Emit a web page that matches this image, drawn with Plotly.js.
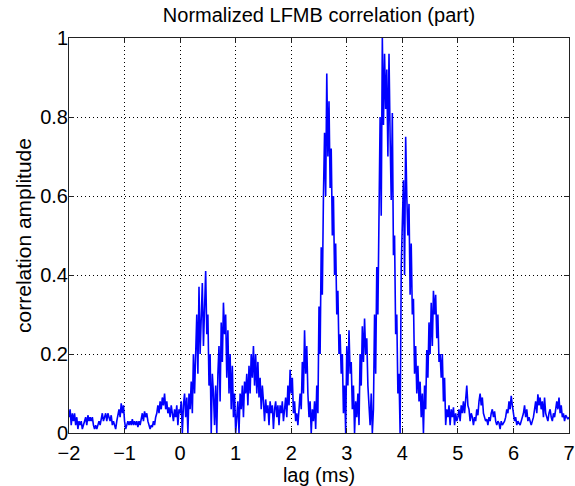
<!DOCTYPE html>
<html>
<head>
<meta charset="utf-8">
<script src="https://cdn.plot.ly/plotly-3.0.1.min.js"></script>
<style>html,body{margin:0;padding:0;background:#fff;}#chart{width:575px;height:486px;}</style>
</head>
<body>
<div id="chart"></div>
<script>
// Sampling grid of the lag axis (ms)
const lagStart = -2;
const lagStep = 0.02;

// Correlation amplitude, one value per lag sample (-2 .. 7 ms)
const amplitude = [
  0.04, 0.06, 0.02, 0.05, 0.03,
  0.05, 0.02, 0.04, 0.01, 0.03,
  0.02, 0.03, 0.01, 0.02, 0.03,
  0.04, 0.02, 0.045, 0.03, 0.04,
  0.03, 0.04, 0.02, 0.01, 0.02,
  0.01, 0.02, 0.03, 0.02, 0.04,
  0.05, 0.03, 0.045, 0.05, 0.03,
  0.05, 0.04, 0.03, 0.045, 0.02,
  0.03, 0.02, 0.01, 0.03, 0.05,
  0.06, 0.04, 0.075, 0.05, 0.07,
  0.03, 0.01, 0.02, 0.03, 0.02,
  0.03, 0.02, 0.035, 0.02, 0.03,
  0.02, 0.03, 0.015, 0.03, 0.02,
  0.04, 0.05, 0.03, 0.055, 0.04,
  0.05, 0.03, 0.02, 0.01, 0.02,
  0.015, 0.03, 0.02, 0.04, 0.05,
  0.07, 0.05, 0.08, 0.06, 0.09,
  0.07, 0.10, 0.06, 0.08, 0.05,
  0.065, 0.04, 0.07, 0.05, 0.03,
  0.06, 0.04, 0.07, 0.02, 0.06,
  0.05, 0.08, 0.00, 0.07, 0.10,
  0.04, 0.09, 0.00, 0.10, 0.06,
  0.13, 0.05, 0.20, 0.10, 0.25,
  0.30, 0.15, 0.37, 0.20, 0.28,
  0.38, 0.22, 0.34, 0.41, 0.25,
  0.30, 0.12, 0.20, 0.00, 0.15,
  0.10, 0.02, 0.12, 0.00, 0.15,
  0.22, 0.08, 0.28, 0.18, 0.33,
  0.25, 0.30, 0.14, 0.26, 0.10,
  0.20, 0.06, 0.17, 0.04, 0.10,
  0.00, 0.03, 0.08, 0.00, 0.10,
  0.06, 0.12, 0.04, 0.13, 0.10,
  0.15, 0.07, 0.17, 0.10, 0.20,
  0.14, 0.22, 0.12, 0.20, 0.10,
  0.18, 0.09, 0.14, 0.06, 0.12,
  0.08, 0.03, 0.085, 0.05, 0.07,
  0.02, 0.08, 0.05, 0.07, 0.01,
  0.06, 0.08, 0.04, 0.07, 0.02,
  0.07, 0.05, 0.08, 0.03, 0.06,
  0.09, 0.04, 0.12, 0.07, 0.16,
  0.10, 0.14, 0.05, 0.08, 0.03,
  0.05, 0.02, 0.08, 0.10, 0.06,
  0.18, 0.10, 0.26, 0.15, 0.22,
  0.10, 0.04, 0.08, 0.00, 0.06,
  0.03, 0.08, 0.01, 0.12, 0.05,
  0.32, 0.20, 0.47, 0.35, 0.60,
  0.76, 0.60, 0.91, 0.70, 0.84,
  0.62, 0.72, 0.50, 0.60, 0.40,
  0.48, 0.30, 0.36, 0.20, 0.25,
  0.15, 0.20, 0.05, 0.12, 0.00,
  0.22, 0.12, 0.26, 0.15, 0.18,
  0.06, 0.12, 0.00, 0.08, 0.04,
  0.10, 0.02, 0.20, 0.12, 0.27,
  0.18, 0.29, 0.20, 0.24, 0.12,
  0.08, 0.02, 0.10, 0.00, 0.06,
  0.30, 0.15, 0.42, 0.30, 0.61,
  0.80, 0.55, 1.00, 0.78, 0.96,
  0.82, 0.92, 0.70, 0.96, 0.75,
  0.59, 0.81, 0.45, 0.50, 0.25,
  0.30, 0.10, 0.15, 0.00, 0.42,
  0.55, 0.64, 0.40, 0.75, 0.60,
  0.50, 0.58, 0.35, 0.48, 0.30,
  0.34, 0.15, 0.22, 0.10, 0.17,
  0.08, 0.13, 0.04, 0.10, 0.00,
  0.12, 0.06, 0.21, 0.14, 0.28,
  0.20, 0.33, 0.22, 0.36, 0.30,
  0.35, 0.24, 0.30, 0.18, 0.20,
  0.14, 0.20, 0.08, 0.14, 0.02,
  0.06, 0.04, 0.07, 0.02, 0.06,
  0.04, 0.065, 0.02, 0.05, 0.03,
  0.04, 0.06, 0.03, 0.07, 0.05,
  0.08, 0.05, 0.10, 0.12, 0.07,
  0.06, 0.03, 0.05, 0.04, 0.02,
  0.04, 0.03, 0.06, 0.045, 0.08,
  0.10, 0.07, 0.09, 0.05, 0.04,
  0.03, 0.035, 0.02, 0.04, 0.03,
  0.05, 0.06, 0.04, 0.055, 0.03,
  0.02, 0.03, 0.025, 0.01, 0.03,
  0.02, 0.025, 0.03, 0.04, 0.06,
  0.05, 0.08, 0.06, 0.094, 0.07,
  0.05, 0.03, 0.04, 0.02, 0.03,
  0.025, 0.02, 0.03, 0.04, 0.05,
  0.07, 0.04, 0.06, 0.03, 0.04,
  0.03, 0.02, 0.03, 0.04, 0.06,
  0.08, 0.05, 0.098, 0.07, 0.09,
  0.06, 0.08, 0.04, 0.09, 0.05,
  0.04, 0.03, 0.05, 0.06, 0.04,
  0.03, 0.05, 0.04, 0.06, 0.08,
  0.06, 0.09, 0.05, 0.07, 0.04,
  0.05, 0.03, 0.045, 0.04, 0.035,
  0.04
];

const xTickVals = [-2, -1, 0, 1, 2, 3, 4, 5, 6, 7];
const yTickVals = [0, 0.2, 0.4, 0.6, 0.8, 1];
const yTickText = ['0', '0.2', '0.4', '0.6', '0.8', '1'];

const lag = amplitude.map((_, i) => +(lagStart + i * lagStep).toFixed(4));

const font = 'Liberation Sans, Arial, Helvetica, sans-serif';

const trace = {
  type: 'scatter',
  mode: 'lines',
  x: lag,
  y: amplitude,
  line: { color: '#0000ff', width: 1.6 },
  hoverinfo: 'skip'
};

const axisCommon = {
  showline: true,
  mirror: 'ticks',
  linecolor: '#222',
  linewidth: 1,
  ticks: 'inside',
  ticklen: 5,
  tickcolor: '#222',
  showgrid: true,
  gridcolor: '#000',
  gridwidth: 1,
  griddash: '1px,3px',
  zeroline: false,
  tickfont: { family: font, size: 20, color: '#000' }
};

const layout = {
  width: 575,
  height: 486,
  margin: { l: 69, r: 6, t: 38, b: 53 },
  paper_bgcolor: '#fff',
  plot_bgcolor: '#fff',
  showlegend: false,
  title: {
    text: 'Normalized LFMB correlation (part)',
    font: { family: font, size: 20, color: '#000' },
    x: 0.5, xref: 'paper',
    y: 1 - 15 / 486, yref: 'container', yanchor: 'middle'
  },
  xaxis: Object.assign({}, axisCommon, {
    range: [-2, 7],
    tickvals: xTickVals,
    ticktext: xTickVals.map(v => v < 0 ? '\u2212' + Math.abs(v) : String(v)),
    ticklabelstandoff: 2,
    title: { text: 'lag (ms)', font: { family: font, size: 20, color: '#000' }, standoff: 0 }
  }),
  yaxis: Object.assign({}, axisCommon, {
    range: [0, 1],
    tickvals: yTickVals,
    ticktext: yTickText,
    ticklabelstandoff: -4,
    title: { text: 'correlation amplitude', font: { family: font, size: 21, color: '#000' }, standoff: 2 }
  })
};

Plotly.newPlot('chart', [trace], layout, { displayModeBar: false, staticPlot: true });
</script>
</body>
</html>
